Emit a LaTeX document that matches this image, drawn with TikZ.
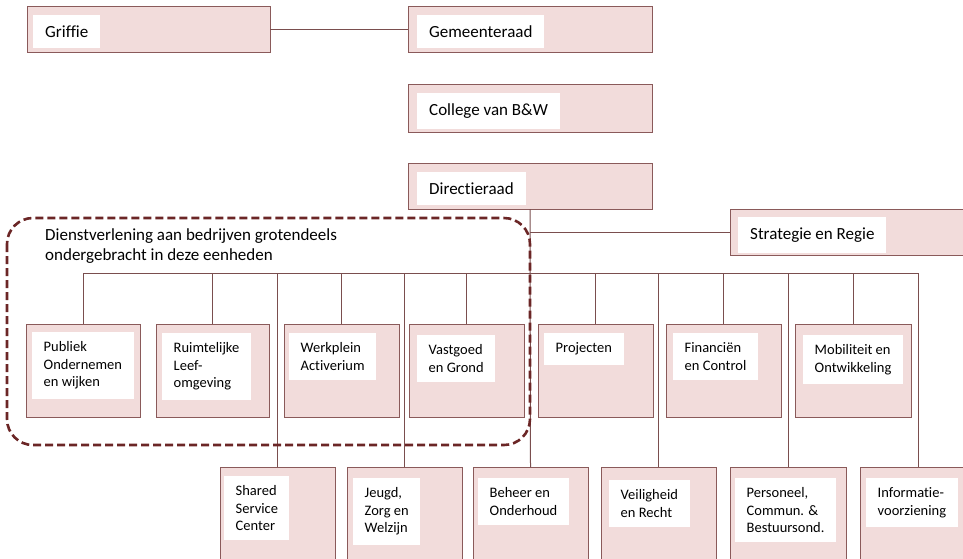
\documentclass[tikz,border=0pt]{standalone}
\usepackage{fontspec}
\setmainfont{Carlito}[Ligatures=NoCommon]
\definecolor{boxfill}{HTML}{F2DCDB}
\definecolor{boxline}{HTML}{8A5A5A}
\definecolor{conn}{HTML}{7A4E4E}
\definecolor{dashc}{HTML}{6B2626}
\begin{document}
\begin{tikzpicture}[x=1pt,y=-1pt,
  unitbox/.style={draw=boxline, fill=boxfill, line width=1pt, inner sep=0pt, outer sep=0pt},
  toplabel/.style={fill=white, anchor=north west, inner xsep=12pt, inner ysep=10.5pt, font=\fontsize{17}{20}\selectfont, align=left},
  rowlabel/.style={fill=white, anchor=north west, inner xsep=11.5pt, inner ysep=9.5pt, font=\fontsize{14.5}{17.5}\selectfont, align=left},
  link/.style={draw=conn, line width=1pt},
  groupline/.style={draw=dashc, line width=2.6pt, dash pattern=on 8pt off 4pt, rounded corners=26pt}]
\useasboundingbox (0,0) rectangle (963,558);
\clip (0,0) rectangle (963,558);
% top level
\node[unitbox, minimum width=243pt, minimum height=46pt] (griffie) at (148.5,29) {};
\node[unitbox, minimum width=244pt, minimum height=46pt] (gemeenteraad) at (530,29) {};
\node[unitbox, minimum width=244pt, minimum height=48pt] (college) at (530,108) {};
\node[unitbox, minimum width=244pt, minimum height=46pt] (directie) at (530,186) {};
\node[unitbox, minimum width=245pt, minimum height=46pt] (strategie) at (852.5,232) {};
% row 1
\node[unitbox, minimum width=114pt, minimum height=93pt] (publiek) at (83,370.5) {};
\node[unitbox, minimum width=113pt, minimum height=93pt] (ruimte) at (212.5,370.5) {};
\node[unitbox, minimum width=115pt, minimum height=93pt] (werkplein) at (341.5,370.5) {};
\node[unitbox, minimum width=115pt, minimum height=93pt] (vastgoed) at (466.5,370.5) {};
\node[unitbox, minimum width=115pt, minimum height=93pt] (projecten) at (595.5,370.5) {};
\node[unitbox, minimum width=115pt, minimum height=93pt] (financien) at (723.5,370.5) {};
\node[unitbox, minimum width=116pt, minimum height=93pt] (mobiliteit) at (853,370.5) {};
% row 2
\node[unitbox, minimum width=115pt, minimum height=108pt] (shared) at (277.5,521) {};
\node[unitbox, minimum width=115pt, minimum height=108pt] (jeugd) at (404.5,521) {};
\node[unitbox, minimum width=115pt, minimum height=108pt] (beheer) at (530.5,521) {};
\node[unitbox, minimum width=115pt, minimum height=108pt] (veiligheid) at (658.5,521) {};
\node[unitbox, minimum width=116pt, minimum height=108pt] (personeel) at (788,521) {};
\node[unitbox, minimum width=116pt, minimum height=108pt] (informatie) at (918,521) {};
% labels
\node[toplabel] (griffieL) at (33,15) {Griffie};
\node[toplabel] (gemeenteraadL) at (417,15) {Gemeenteraad};
\node[toplabel] (collegeL) at (417,93) {College van B\&W};
\node[toplabel] (directieL) at (417,172) {Directieraad};
\node[toplabel] (strategieL) at (738,217) {Strategie en Regie};
\node[rowlabel] (publiekL) at (32,332) {Publiek\\Ondernemen\\en wijken};
\node[rowlabel] (ruimteL) at (162,333) {Ruimtelijke\\Leef-\\omgeving};
\node[rowlabel] (werkpleinL) at (289,333) {Werkplein\\Activerium};
\node[rowlabel] (vastgoedL) at (417,335) {Vastgoed\\en Grond};
\node[rowlabel] (projectenL) at (544,333) {Projecten};
\node[rowlabel] (financienL) at (673,333) {Financiën\\en Control};
\node[rowlabel] (mobiliteitL) at (803,335) {Mobiliteit en\\Ontwikkeling};
\node[rowlabel] (sharedL) at (224,476) {Shared\\Service\\Center};
\node[rowlabel] (jeugdL) at (353,478) {Jeugd,\\Zorg en\\Welzijn};
\node[rowlabel] (beheerL) at (478,478) {Beheer en\\Onderhoud};
\node[rowlabel] (veiligheidL) at (609,480) {Veiligheid\\en Recht};
\node[rowlabel] (personeelL) at (735,478) {Personeel,\\Commun. \&\\Bestuursond.};
\node[rowlabel] (informatieL) at (866,478) {Informatie-\\voorziening};
% connectors
\coordinate (bus) at (0,273);
\draw[link] (griffie) -- (gemeenteraad);
\draw[link] (directie.south) -- (beheer.north);
\draw[link] (directie.south |- strategie.west) -- (strategie.west);
\draw[link] (publiek.north |- bus) -- (informatie.north |- bus);
\foreach \u in {publiek,ruimte,werkplein,vastgoed,projecten,financien,mobiliteit,shared,jeugd,veiligheid,personeel,informatie}
  \draw[link] (\u.north |- bus) -- (\u.north);
% grouping
\draw[groupline] (7,218) rectangle (530,445);
\node[anchor=north west, inner sep=0pt, align=left, font=\fontsize{17}{20}\selectfont] (groupL) at (45,228) {Dienstverlening aan bedrijven grotendeels\\ondergebracht in deze eenheden};
\end{tikzpicture}
\end{document}
